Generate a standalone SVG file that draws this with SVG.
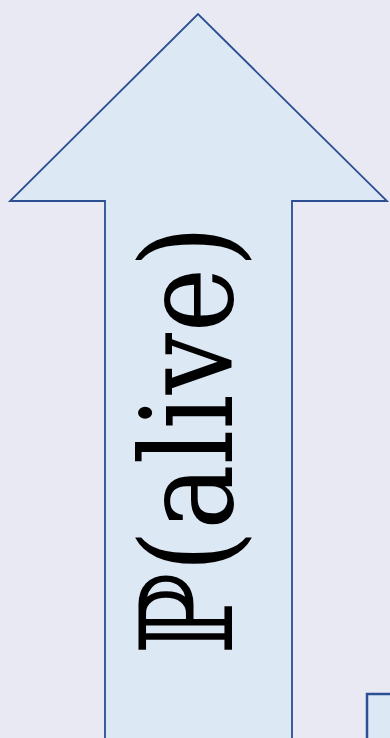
<svg xmlns="http://www.w3.org/2000/svg" width="390" height="738" viewBox="0 0 390 738">
<style>
.shape{fill:#dde8f5;stroke:#2b4f92}
.lbl{font-family:"DejaVu Serif","Liberation Serif",serif;font-size:128px;fill:#000}
</style>
<rect width="390" height="738" fill="#e9e9f3"/>
<g id="arrow">
<path class="shape" stroke-width="1.8" d="M105,745 L105,201 L10,201 L198,14 L387,201 L292,201 L292,745 Z"/>
<text class="lbl" transform="translate(232,440) rotate(-90)" text-anchor="middle" textLength="430" lengthAdjust="spacingAndGlyphs">ℙ(alive)</text>
</g>
<g id="box">
<rect class="shape" stroke-width="2.5" x="367" y="694" width="40" height="60"/>
</g>
<g id="connectors"></g>
</svg>
